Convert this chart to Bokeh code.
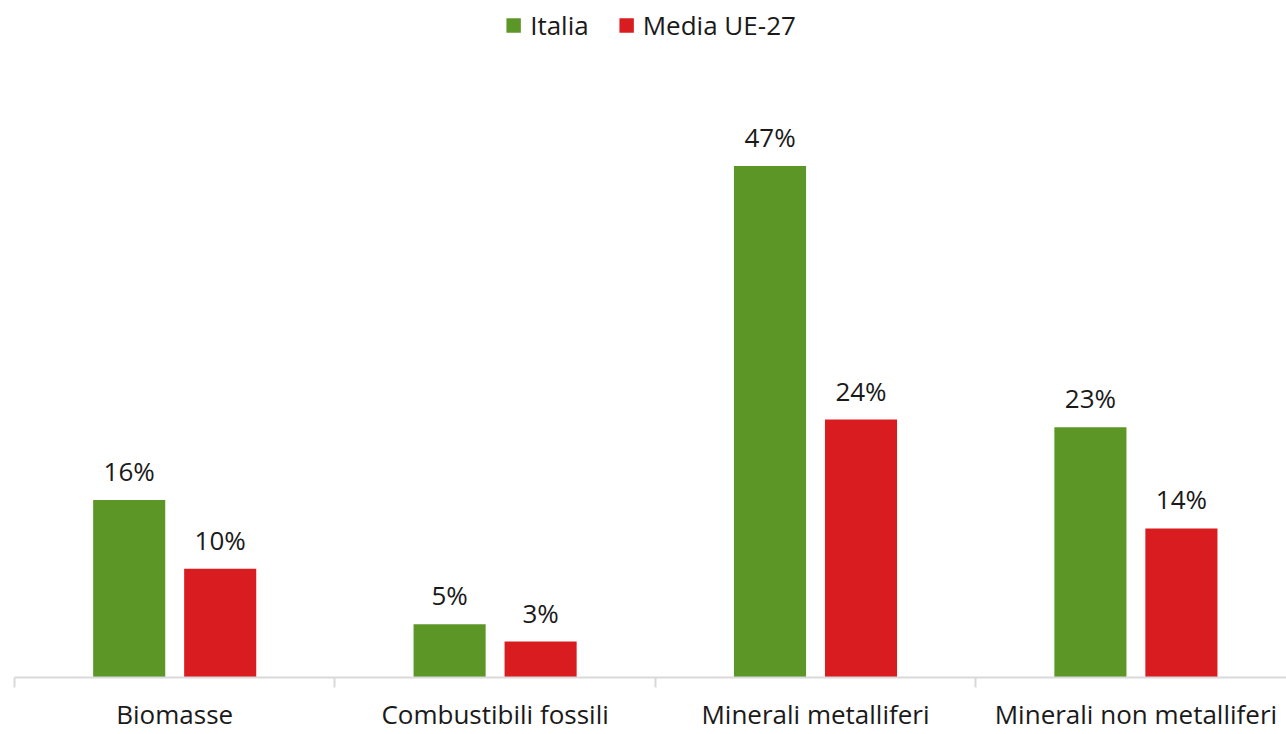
from bokeh.plotting import figure
from bokeh.models import ColumnDataSource, FixedTicker, Range1d, Legend, LegendItem, LinearAxis
from bokeh.core.properties import value
from bokeh.embed import file_html
from bokeh.resources import INLINE

categories = ["Biomasse", "Combustibili fossili", "Minerali metalliferi", "Minerali non metalliferi"]
series_names = ["Italia", "Media UE-27"]
italia = [16.3, 4.9, 47.0, 23.0]
media_ue27 = [10.0, 3.3, 23.7, 13.7]
colors = ["#5c9626", "#d91c1f"]

FONT = "Open Sans"
W, H = 1286, 734

n = len(categories)
centers = [i + 0.5 for i in range(n)]
offset = 0.142
bw = 0.225

p = figure(width=W, height=H, output_backend="svg", toolbar_location=None,
           x_range=Range1d(0, 3.97), y_range=Range1d(0, 62.2),
           min_border_left=14, min_border_right=0, min_border_top=0, min_border_bottom=40,
           x_axis_type=None, y_axis_type=None)
p.outline_line_color = None
p.grid.visible = False
p.background_fill_color = "white"
p.border_fill_color = "white"

items = []
for s, (name, vals, col, sh) in enumerate(zip(series_names, [italia, media_ue27], colors, [-offset, offset])):
    xs = [c + sh for c in centers]
    src = ColumnDataSource(dict(x=xs, top=vals, lab=[f"{round(v):d}%" for v in vals]))
    r = p.vbar(x="x", top="top", width=bw, bottom=0, source=src, fill_color=col, line_color=None)
    p.text(x="x", y="top", text="lab", source=src, text_align="center", text_baseline="bottom",
           y_offset=-11, text_font=value(FONT), text_font_size="26px", text_color="#1a1a1a")
    items.append(LegendItem(label=name, renderers=[r]))

ax = LinearAxis()
ax.ticker = FixedTicker(ticks=centers, minor_ticks=[0, 1, 2, 3, 4])
ax.major_label_overrides = {c: cat for c, cat in zip(centers, categories)}
ax.major_tick_in = 0
ax.major_tick_out = 0
ax.minor_tick_in = 0
ax.minor_tick_out = 10
ax.minor_tick_line_color = "#d9d9d9"
ax.minor_tick_line_width = 2
ax.axis_line_color = "#d9d9d9"
ax.axis_line_width = 2
ax.major_label_standoff = 8
ax.major_label_text_font = FONT
ax.major_label_text_font_size = "26px"
ax.major_label_text_color = "#1a1a1a"
p.add_layout(ax, "below")

leg = Legend(items=items, orientation="horizontal", location="top_center",
             glyph_width=18, glyph_height=18, label_text_font=FONT, label_text_font_size="26px",
             label_text_color="#1a1a1a", spacing=28, label_standoff=8, padding=6, margin=7,
             border_line_color=None, background_fill_alpha=0)
p.add_layout(leg, "center")

open("out.html", "w").write(file_html(p, INLINE))
